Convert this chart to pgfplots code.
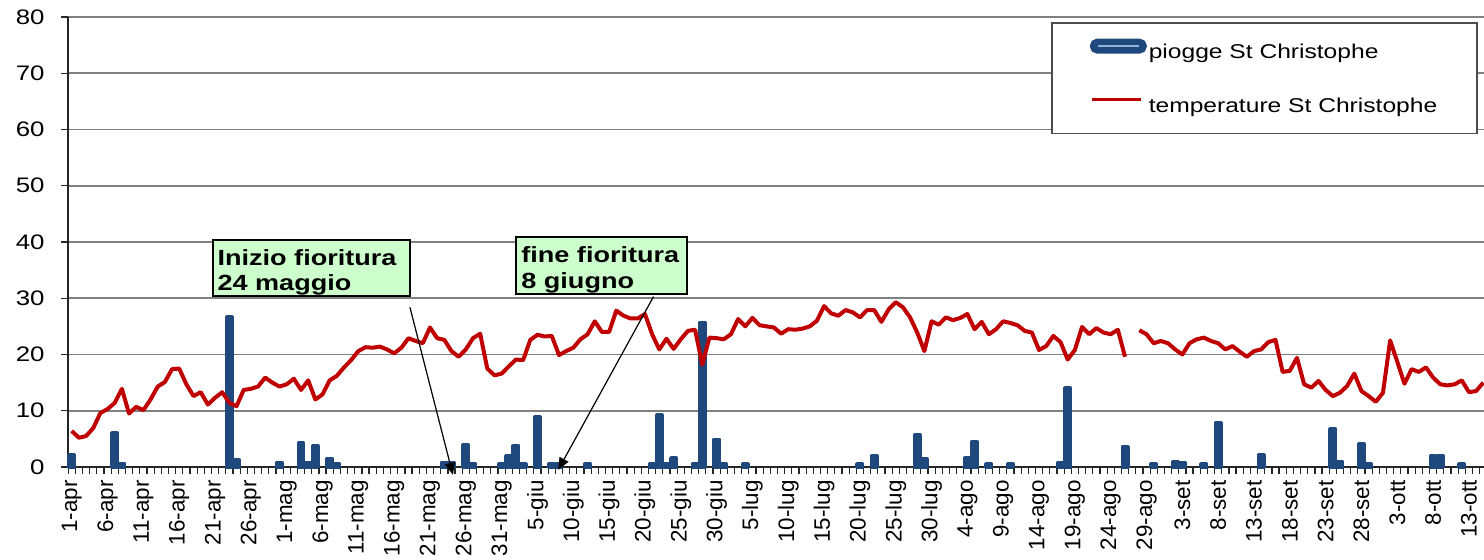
\documentclass[border=0pt]{standalone}
\usepackage{pgfplots}
\pgfplotsset{compat=1.18}
\usepackage{pgfplotstable}
\usepackage{fontspec}
\setmainfont{Liberation Sans}
\newfontfamily\wide[FakeStretch=1.23]{Liberation Sans}
\usetikzlibrary{arrows.meta}
\definecolor{barblue}{RGB}{31,73,125}
\definecolor{lightbar}{RGB}{149,179,215}
\definecolor{tempred}{RGB}{192,0,0}
\definecolor{boxgreen}{RGB}{204,255,204}

\pgfplotstableread{
day rain
0 2.1
6 6.0
7 0.6
22 26.6
23 1.3
29 0.8
32 4.2
33 0.8
34 3.8
36 1.5
37 0.5
52 0.8
53 0.8
55 3.9
56 0.5
60 0.5
61 1.9
62 3.8
63 0.5
65 8.9
67 0.6
68 0.5
72 0.6
81 0.5
82 9.2
83 0.5
84 1.6
87 0.5
88 25.7
90 4.9
91 0.5
94 0.5
110 0.5
112 2.0
118 5.7
119 1.4
125 1.6
126 4.5
128 0.5
131 0.5
138 0.8
139 14.0
147 3.6
151 0.5
154 0.9
155 0.8
158 0.5
160 7.8
166 2.1
176 6.7
177 0.9
180 4.1
181 0.5
190 1.9
191 2.0
194 0.5
}\raintable

\pgfplotstableread{
day temp
0 6.4
1 5.2
2 5.5
3 6.9
4 9.6
5 10.3
6 11.4
7 13.9
8 9.5
9 10.7
10 10.1
11 12.0
12 14.3
13 15.1
14 17.4
15 17.5
16 14.7
17 12.6
18 13.3
19 11.1
20 12.3
21 13.3
22 11.4
23 10.8
24 13.7
25 13.9
26 14.3
27 15.9
28 15.0
29 14.3
30 14.7
31 15.7
32 13.7
33 15.4
34 12.0
35 12.9
36 15.4
37 16.2
38 17.7
39 19.0
40 20.6
41 21.3
42 21.2
43 21.4
44 20.9
45 20.2
46 21.2
47 22.9
48 22.4
49 22.0
50 24.8
51 22.9
52 22.6
53 20.6
54 19.6
55 20.9
56 22.9
57 23.7
58 17.5
59 16.3
60 16.6
61 17.9
62 19.1
63 19.0
64 22.6
65 23.5
66 23.2
67 23.3
68 19.9
69 20.6
70 21.2
71 22.7
72 23.6
73 25.9
74 24.0
75 24.0
76 27.8
77 26.9
78 26.4
79 26.4
80 27.2
81 23.6
82 20.9
83 22.8
84 21.0
85 22.7
86 24.2
87 24.4
88 18.2
89 23.0
90 22.9
91 22.7
92 23.6
93 26.3
94 25.0
95 26.5
96 25.2
97 25.0
98 24.8
99 23.7
100 24.5
101 24.4
102 24.6
103 25.0
104 26.0
105 28.6
106 27.3
107 26.9
108 27.9
109 27.5
110 26.6
111 27.9
112 27.9
113 25.8
114 28.0
115 29.3
116 28.4
117 26.6
118 23.9
119 20.6
120 25.9
121 25.3
122 26.6
123 26.1
124 26.5
125 27.2
126 24.5
127 25.8
128 23.6
129 24.5
130 25.9
131 25.6
132 25.2
133 24.2
134 23.9
135 20.8
136 21.5
137 23.3
138 22.2
139 19.1
140 20.8
141 24.9
142 23.6
143 24.7
144 23.9
145 23.6
146 24.4
147 19.6
148 nan
149 24.3
150 23.6
151 22.0
152 22.4
153 22.0
154 20.9
155 20.0
156 22.0
157 22.7
158 23.0
159 22.4
160 22.0
161 20.9
162 21.5
163 20.5
164 19.6
165 20.6
166 20.9
167 22.2
168 22.6
169 16.9
170 17.1
171 19.4
172 14.7
173 14.1
174 15.3
175 13.7
176 12.6
177 13.2
178 14.4
179 16.6
180 13.5
181 12.6
182 11.6
183 13.2
184 22.5
185 18.7
186 14.8
187 17.4
188 16.9
189 17.7
190 15.9
191 14.7
192 14.5
193 14.7
194 15.4
195 13.3
196 13.5
197 15.0
}\temptable

\begin{document}
\begin{tikzpicture}
\begin{axis}[
  name=ax, at={(0,0)}, anchor=south west,
  scale only axis, width=708pt, height=225pt,
  xmin=-0.52, xmax=197.1, ymin=0, ymax=80,
  clip=false,
  axis x line*=bottom, axis y line*=left,
  x axis line style={black!85, line width=0.8pt},
  y axis line style={black!85, line width=0.6pt},
  tick align=outside,
  major tick length=3.5pt,
  tick style={black!85, line width=0.6pt},
  ytick={0,10,...,80},
  ymajorgrids, grid style={gray, line width=0.9pt},
  xtick={-0.5,0.5,...,196.5},
  xticklabels={},
  extra x ticks={0,5,...,195},
  extra x tick labels={1-apr,6-apr,11-apr,16-apr,21-apr,26-apr,1-mag,6-mag,11-mag,16-mag,21-mag,26-mag,31-mag,5-giu,10-giu,15-giu,20-giu,25-giu,30-giu,5-lug,10-lug,15-lug,20-lug,25-lug,30-lug,4-ago,9-ago,14-ago,19-ago,24-ago,29-ago,3-set,8-set,13-set,18-set,23-set,28-set,3-ott,8-ott,13-ott},
  extra x tick style={major tick length=0pt},
  xticklabel style={rotate=90, anchor=east, inner sep=0pt, xshift=-6.5pt, font=\fontsize{11.2}{13}\selectfont},
  /pgf/number format/assume math mode=true,
  yticklabel style={anchor=east, inner sep=0pt, xshift=-8pt, font=\wide\fontsize{10.5}{12}\selectfont},
  legend style={at={(axis description cs:0.9958,0.989)}, anchor=north east,
    draw=black!70, line width=0.8pt, fill=white,
    inner xsep=19pt, inner ysep=8pt, row sep=16pt,
    font=\wide\fontsize{10}{12}\selectfont,
    nodes={inner sep=1pt}},
  legend cell align=left,
]
\addplot[ybar, bar width=0.72, fill=barblue, draw=barblue, line width=1.9pt, line join=round,
  legend image code/.code={
    \fill[barblue, rounded corners=2.5pt] (0pt,0.75pt) rectangle (26.5pt,6.25pt);
    \draw[lightbar, line width=1.2pt] (3pt,3.5pt) -- (23.5pt,3.5pt);}]
  table[x=day, y=rain] {\raintable};
\addlegendentry{piogge St Christophe}
\addplot[tempred, line width=2pt, line join=round, mark=none, unbounded coords=jump,
  legend image code/.code={
    \draw[tempred, line width=1.5pt] (0pt,3.5pt) -- (24.5pt,3.5pt);}]
  table[x=day, y=temp] {\temptable};
\addlegendentry{temperature St Christophe}

% annotations
\draw[fill=boxgreen, line width=0.75pt] (axis cs:19.7,30.4) rectangle (axis cs:47.2,40.36);
\node[anchor=base west, inner sep=0pt, font=\wide\bfseries\fontsize{11}{13}\selectfont] at (axis cs:20.3,35.9) {Inizio fioritura};
\node[anchor=base west, inner sep=0pt, font=\wide\bfseries\fontsize{11}{13}\selectfont] at (axis cs:20.3,31.3) {24 maggio};
\draw[-{Triangle[length=6pt,width=5pt]}, line width=0.6pt] (axis cs:47.2,28.4) -- (axis cs:53.2,-1.4);

\draw[fill=boxgreen, line width=0.75pt] (axis cs:62.0,30.76) rectangle (axis cs:85.9,40.9);
\node[anchor=base west, inner sep=0pt, font=\wide\bfseries\fontsize{11}{13}\selectfont] at (axis cs:62.7,36.4) {fine fioritura};
\node[anchor=base west, inner sep=0pt, font=\wide\bfseries\fontsize{11}{13}\selectfont] at (axis cs:62.7,31.8) {8 giugno};
\draw[-{Triangle[length=6pt,width=5pt]}, line width=0.6pt] (axis cs:81.2,30.3) -- (axis cs:67.9,-0.5);
\end{axis}
\pgfresetboundingbox
\path[use as bounding box] ([shift={(-34pt,-46.5pt)}]ax.south west) rectangle ([shift={(0pt,8.5pt)}]ax.north east);
\end{tikzpicture}
\end{document}
